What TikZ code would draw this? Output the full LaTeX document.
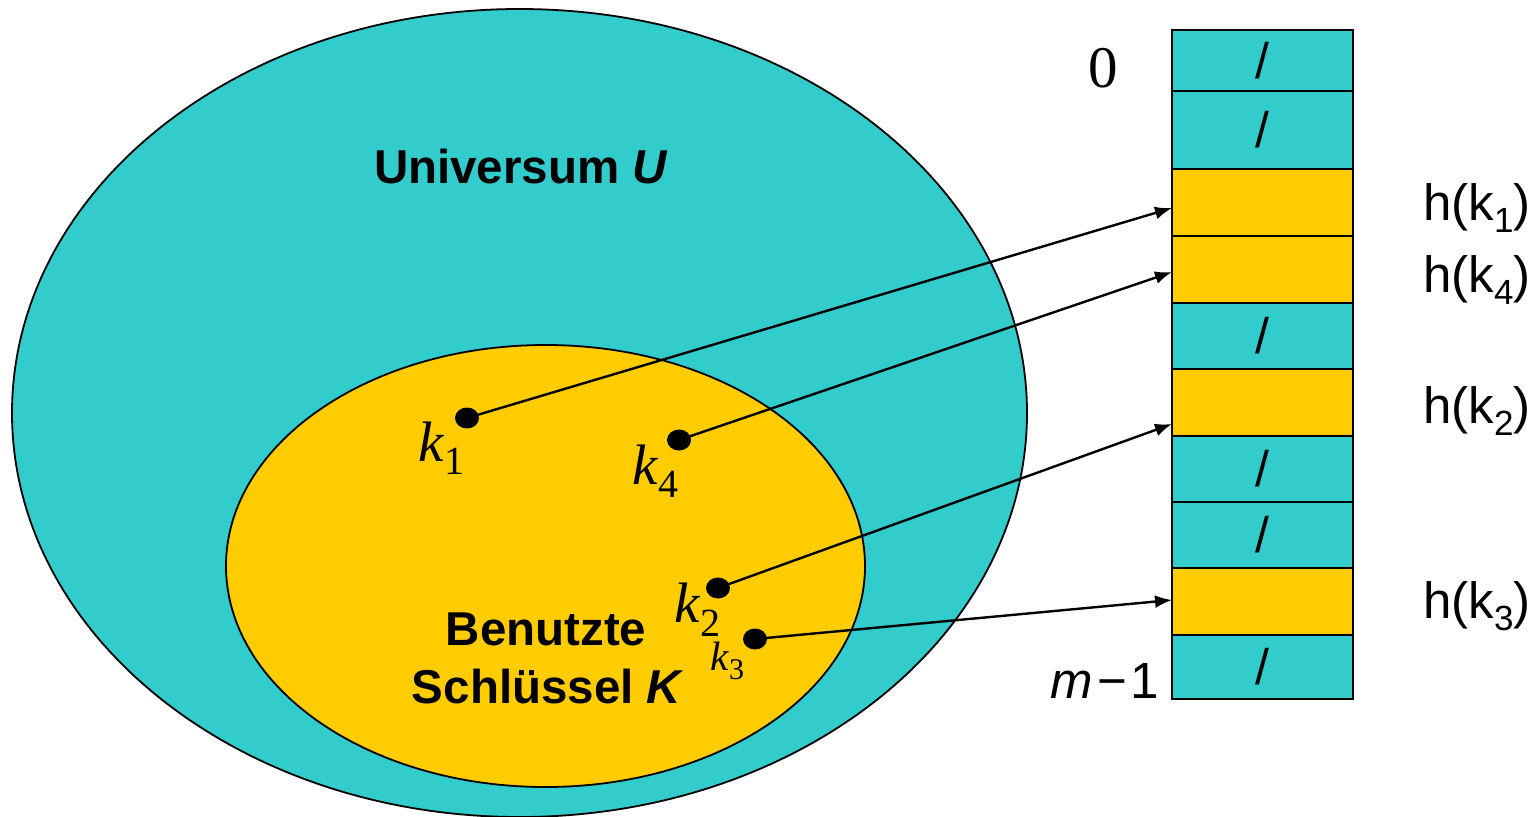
\documentclass[tikz,border=0pt]{standalone}
\usepackage{fontspec}
\setmainfont{Liberation Sans}
\newfontfamily\serifk{Liberation Serif}
\usetikzlibrary{shapes.geometric,arrows.meta,calc}
\definecolor{uteal}{HTML}{33CCCC}
\definecolor{ugold}{HTML}{FFCC00}
\newcommand{\fs}[1]{\fontsize{#1}{#1}\selectfont}
\begin{document}
\begin{tikzpicture}[x=1pt,y=-1pt,
  cell/.style={draw, line width=2.5pt, minimum width=181pt, inner sep=0pt, font=\fs{50}},
  tcell/.style={cell, fill=uteal},
  gcell/.style={cell, fill=ugold},
  dot/.style={ellipse, fill=black, minimum width=24pt, minimum height=21pt, inner sep=0pt},
  arr/.style={line width=2.4pt, -{Latex[length=17pt,width=13pt]}},
  keylbl/.style={anchor=base west, inner sep=0pt},
  hlbl/.style={anchor=base west, inner sep=0pt, font=\fs{51}},
  bigtxt/.style={font=\fs{47.5}\bfseries, align=center, inner sep=0pt}
]
\useasboundingbox (0,0) rectangle (1538,816);
% ellipses
\draw[fill=uteal, line width=1.8pt] (519.5,413) ellipse [x radius=507.5, y radius=404];
\draw[fill=ugold, line width=1.8pt] (545.5,566) ellipse [x radius=319.5, y radius=221];
% texts
\node[bigtxt, anchor=base] (univ) at (521,183) {Universum \textit{U}};
\node[bigtxt, anchor=base] (ben) at (546,645) {Benutzte};
\node[bigtxt, anchor=base] (sch) at (548,703) {Schlüssel \textit{K}};
% table
\node[tcell, minimum height=61pt] (r0) at (1262.5,60.5) {/};
\node[tcell, minimum height=78pt] (r1) at (1262.5,130) {/};
\node[gcell, minimum height=67pt] (r2) at (1262.5,202.5) {};
\node[gcell, minimum height=67pt] (r3) at (1262.5,269.5) {};
\node[tcell, minimum height=66pt] (r4) at (1262.5,336) {/};
\node[gcell, minimum height=67pt] (r5) at (1262.5,402.5) {};
\node[tcell, minimum height=66pt] (r6) at (1262.5,469) {/};
\node[tcell, minimum height=66pt] (r7) at (1262.5,535) {/};
\node[gcell, minimum height=67pt] (r8) at (1262.5,601.5) {};
\node[tcell, minimum height=64pt] (r9) at (1262.5,667) {/};
% index labels
\node[anchor=base, inner sep=0pt] (zero) at (1103,87) {\serifk\fs{59}0};
\node[anchor=base east, inner sep=0pt, font=\fs{51}] (mm1) at (1159,698) {\textit{m}\kern5pt\raisebox{0pt}{−}\kern3pt1};
% hash labels
\node[hlbl] (h1) at (1423,220) {h(k\fs{35}\raisebox{-12pt}{1}\fs{51})};
\node[hlbl] (h4) at (1423,292) {h(k\fs{35}\raisebox{-12pt}{4}\fs{51})};
\node[hlbl] (h2) at (1423,423) {h(k\fs{35}\raisebox{-12pt}{2}\fs{51})};
\node[hlbl] (h3) at (1423,618) {h(k\fs{35}\raisebox{-12pt}{3}\fs{51})};
% keys
\node[dot] (d1) at (467,418) {};
\node[dot] (d4) at (679,440) {};
\node[dot] (d2) at (718,588) {};
\node[dot] (d3) at (755,639) {};
\node[keylbl] (k1) at (418,461) {\serifk\fs{57}\textit{k}\fs{40}\raisebox{-13pt}{1}};
\node[keylbl] (k4) at (632,484) {\serifk\fs{57}\textit{k}\fs{40}\raisebox{-13pt}{4}};
\node[keylbl] (k2) at (674,622) {\serifk\fs{57}\textit{k}\fs{40}\raisebox{-14pt}{2}};
\node[keylbl] (k3) at (710,670) {\serifk\fs{41}\textit{k}\fs{30}\raisebox{-9pt}{3}};
% arrow targets
\coordinate (t1) at (1172,208);
\coordinate (t4) at (1172,272);
\coordinate (t2) at (1172,424);
\coordinate (t3) at (1172,600);
\draw[arr] (d1.center) -- (t1);
\draw[arr] (d4.center) -- (t4);
\draw[arr] (d2.center) -- (t2);
\draw[arr] (d3.center) -- (t3);
\end{tikzpicture}
\end{document}
